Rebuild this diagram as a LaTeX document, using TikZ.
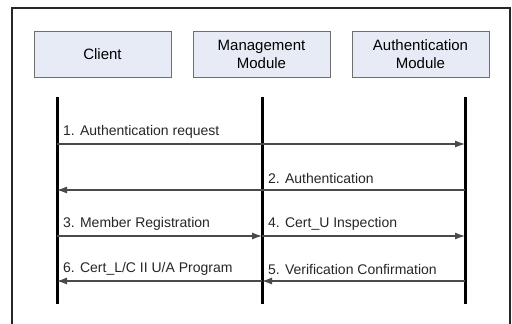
\documentclass[tikz,border=0pt]{standalone}
\usepackage{fontspec}
\setmainfont{Liberation Sans}
\usetikzlibrary{arrows.meta}
\definecolor{boxfill}{HTML}{E6EBF5}
\definecolor{boxline}{HTML}{6E6E6E}
\definecolor{msgline}{HTML}{4A4A4A}
\begin{document}
\begin{tikzpicture}[x=1pt,y=-1pt,
  party/.style={draw=boxline,fill=boxfill,line width=1pt,minimum width=137pt,minimum height=46pt,
    inner sep=0pt,align=center,font=\fontsize{15}{18}\selectfont},
  lifeline/.style={line width=3pt,black},
  msg/.style={draw=msgline,line width=1.1pt,-{Latex[length=10pt,width=7pt]}},
  msglabel/.style={anchor=west,inner sep=0pt,font=\fontsize{14}{16}\selectfont,text=black!85}]
\useasboundingbox (0,0) rectangle (512,324);
% outer frame, open at the bottom
\draw[line width=1.5pt,black!85] (12,330) -- (12,8) -- (510,8) -- (510,330);
% participants
\node[party] (client) at (102.5,54) {Client};
\node[party] (mgmt) at (261.5,54) {Management\\Module};
\node[party] (auth) at (420.5,54) {Authentication\\Module};
% lifelines
\foreach \n/\x in {c/57,m/262,a/465}{
  \coordinate (\n top) at (\x,97);
  \coordinate (\n bot) at (\x,304);
  \foreach \k/\y in {1/144,2/190,3/236,4/281}{
    \coordinate (\n\k) at (\x,\y);
  }
}
\draw[lifeline] (ctop) -- (cbot);
\draw[lifeline] (mtop) -- (mbot);
\draw[lifeline] (atop) -- (abot);
% messages
\draw[msg] (c1) -- (a1);
\node[msglabel] (l1) at (63,132) {1. Authentication request};
\draw[msg] (a2) -- (c2);
\node[msglabel] (l2) at (268,178) {2. Authentication};
\draw[msg] (c3) -- (m3);
\node[msglabel] (l3) at (63,224) {3. Member Registration};
\draw[msg] (m3) -- (a3);
\node[msglabel] (l4) at (268,224) {4. Cert\_U Inspection};
\draw[msg] (a4) -- (m4);
\node[msglabel] (l5) at (268,269) {5. Verification Confirmation};
\draw[msg] (m4) -- (c4);
\node[msglabel] (l6) at (63,269) {6. Cert\_L/C II U/A Program};
\end{tikzpicture}
\end{document}
